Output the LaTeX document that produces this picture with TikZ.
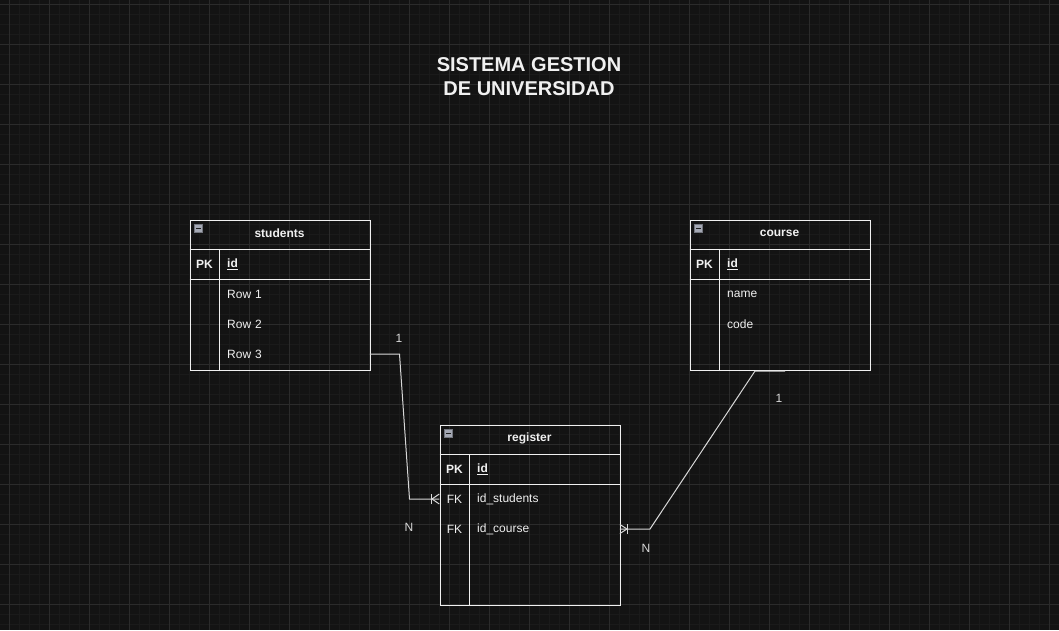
\documentclass[tikz,border=0pt]{standalone}
\usepackage{fontspec}
\setmainfont{Liberation Sans}
\usetikzlibrary{calc}
\definecolor{bgc}{HTML}{131313}
\definecolor{minorc}{HTML}{1A1A1A}
\definecolor{majorc}{HTML}{2B2B2B}
\definecolor{linec}{HTML}{F0F0F0}
\definecolor{connc}{HTML}{D8D8D8}
\definecolor{txtc}{HTML}{F0F0F0}
\definecolor{iconc}{HTML}{A4A8B4}
\definecolor{iconline}{HTML}{1E1E1E}
\begin{document}
\begin{tikzpicture}[x=1pt,y=-1pt,
  tbl/.style={draw=linec, line width=1pt, anchor=north west, minimum width=180pt, minimum height=150pt, inner sep=0pt},
  tline/.style={draw=linec, line width=1pt},
  conn/.style={draw=connc, line width=1pt},
  hdr/.style={text=txtc, font=\fontsize{12}{14}\selectfont\bfseries, inner sep=0pt},
  keycell/.style={text=txtc, font=\fontsize{12}{14}\selectfont, minimum width=30pt, minimum height=30pt, inner sep=0pt},
  fieldcell/.style={text=txtc, font=\fontsize{12}{14}\selectfont, anchor=west, text width=135pt, inner xsep=7.5pt, inner ysep=0pt, minimum height=30pt, align=left},
  lbl/.style={text=connc, font=\fontsize{12}{14}\selectfont, inner sep=0pt},
  title/.style={text=txtc, font=\fontsize{20}{24}\selectfont\bfseries, align=center, inner sep=0pt},
  icon/.style={fill=iconc, draw=iconc!70!black, line width=0.6pt}
]
% background and grid
\fill[bgc] (0,0) rectangle (1059,630);
\useasboundingbox (0,0) rectangle (1059,630);
\foreach \x in {9.5,19.5,...,1059} \draw[minorc, line width=0.6pt] (\x,0) -- (\x,630);
\foreach \y in {4.5,14.5,...,630} \draw[minorc, line width=0.6pt] (0,\y) -- (1059,\y);
\foreach \x in {9.5,49.5,...,1059} \draw[majorc, line width=1pt] (\x,0) -- (\x,630);
\foreach \y in {4.5,44.5,...,630} \draw[majorc, line width=1pt] (0,\y) -- (1059,\y);

% title
\node[title] (ttl) at (529,77) {SISTEMA GESTION\\DE UNIVERSIDAD};

% ---------- students ----------
\node[tbl] (students) at (189.5,219.5) {};
\draw[tline] (189.5,249.5) -- (369.5,249.5);
\draw[tline] (189.5,279.5) -- (369.5,279.5);
\draw[tline] (219.5,249.5) -- (219.5,369.5);
\draw[icon] (194.5,224.5) rectangle (202.5,232.5);
\draw[iconline, line width=1.2pt] (196.3,228.5) -- (200.7,228.5);
\node[hdr] (sH) at (279.5,233) {students};
\node[keycell, font=\fontsize{12}{14}\selectfont\bfseries] (sPK) at (204.5,264) {PK};
\node[fieldcell, font=\fontsize{12}{14}\selectfont\bfseries] (sId) at (219.5,264) {\underline{id}};
\node[fieldcell] (sR1) at (219.5,294) {Row 1};
\node[fieldcell] (sR2) at (219.5,324) {Row 2};
\node[fieldcell] (sR3) at (219.5,354) {Row 3};

% ---------- course ----------
\node[tbl] (course) at (689.5,219.5) {};
\draw[tline] (689.5,249.5) -- (869.5,249.5);
\draw[tline] (689.5,279.5) -- (869.5,279.5);
\draw[tline] (719.5,249.5) -- (719.5,369.5);
\draw[icon] (694.5,224.5) rectangle (702.5,232.5);
\draw[iconline, line width=1.2pt] (696.3,228.5) -- (700.7,228.5);
\node[hdr] (cH) at (779.5,233) {course};
\node[keycell, font=\fontsize{12}{14}\selectfont\bfseries] (cPK) at (704.5,264) {PK};
\node[fieldcell, font=\fontsize{12}{14}\selectfont\bfseries] (cId) at (719.5,264) {\underline{id}};
\node[fieldcell] (cR1) at (719.5,294) {name};
\node[fieldcell] (cR2) at (719.5,324) {code};
\coordinate (cEnd) at (785,371);

% ---------- register ----------
\node[tbl, minimum height=180pt] (register) at (439.5,424.5) {};
\draw[tline] (439.5,454.5) -- (619.5,454.5);
\draw[tline] (439.5,484.5) -- (619.5,484.5);
\draw[tline] (469.5,454.5) -- (469.5,604.5);
\draw[icon] (444.5,429.5) rectangle (452.5,437.5);
\draw[iconline, line width=1.2pt] (446.3,433.5) -- (450.7,433.5);
\node[hdr] (rH) at (529.5,438) {register};
\node[keycell, font=\fontsize{12}{14}\selectfont\bfseries] (rPK) at (454.5,469) {PK};
\node[fieldcell, font=\fontsize{12}{14}\selectfont\bfseries] (rId) at (469.5,469) {\underline{id}};
\node[keycell] (rF1) at (454.5,499) {FK};
\node[fieldcell] (rR1) at (469.5,499) {id\_students};
\node[keycell] (rF2) at (454.5,529) {FK};
\node[fieldcell] (rR2) at (469.5,529) {id\_course};

% ---------- connectors ----------
\draw[conn] (sR3.east) -- (399.5,354) -- (409.5,499) -- (rF1.west);
\draw[conn] (431.5,494) -- (431.5,504);
\draw[conn] ($(rF1.west)+(0,-5)$) -- (432,499) -- ($(rF1.west)+(0,5)$);
\node[lbl] (l1) at (399,338) {1};
\node[lbl] (l2) at (409,527) {N};

\draw[conn] (cEnd) -- (755,371) -- (650,529) -- (rR2.east);
\draw[conn] (627.5,524) -- (627.5,534);
\draw[conn] ($(rR2.east)+(0,-4.5)$) -- (627,529) -- ($(rR2.east)+(0,4.5)$);
\node[lbl] (l3) at (779,398) {1};
\node[lbl] (l4) at (646,548) {N};
\end{tikzpicture}
\end{document}
